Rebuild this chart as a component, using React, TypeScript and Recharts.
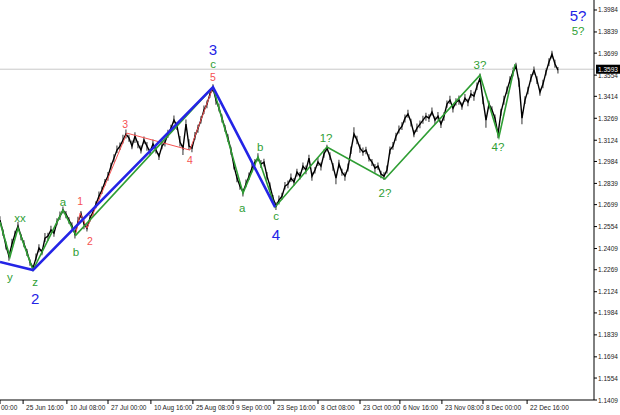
import React from 'react';
import { ComposedChart, Line, Bar, XAxis, YAxis, ReferenceLine, Scatter } from 'recharts';

const closes = [
  1.2597, 1.2518, 1.2425, 1.2359, 1.2439, 1.2505, 1.2557, 1.2491, 1.2439, 1.2386,
  1.2320, 1.2280, 1.2346, 1.2412, 1.2386, 1.2478, 1.2491, 1.2531, 1.2511, 1.2584,
  1.2623, 1.2663, 1.2637, 1.2597, 1.2557, 1.2505, 1.2584, 1.2637, 1.2571, 1.2544,
  1.2610, 1.2650, 1.2703, 1.2755, 1.2795, 1.2848, 1.2887, 1.2953, 1.3006, 1.3059,
  1.3085, 1.3125, 1.3165, 1.3138, 1.3085, 1.3151, 1.3099, 1.3059, 1.3125, 1.3085,
  1.3046, 1.3099, 1.3059, 1.3019, 1.3085, 1.3112, 1.3165, 1.3204, 1.3257, 1.3217,
  1.3112, 1.3072, 1.3231, 1.3085, 1.3072, 1.3151, 1.3204, 1.3257, 1.3323, 1.3363,
  1.3429, 1.3468, 1.3389, 1.3336, 1.3270, 1.3204, 1.3138, 1.3059, 1.2953, 1.2874,
  1.2821, 1.2782, 1.2835, 1.2887, 1.2940, 1.2980, 1.3006, 1.2967, 1.2980, 1.2887,
  1.2821, 1.2742, 1.2689, 1.2729, 1.2755, 1.2821, 1.2835, 1.2874, 1.2848, 1.2914,
  1.2887, 1.2953, 1.2927, 1.3006, 1.2887, 1.2927, 1.2980, 1.2953, 1.3033, 1.3072,
  1.3019, 1.2953, 1.2874, 1.2967, 1.2914, 1.2887, 1.2940, 1.3059, 1.3165, 1.3125,
  1.3072, 1.3046, 1.3059, 1.3006, 1.2980, 1.2940, 1.2953, 1.2901, 1.2887, 1.2927,
  1.3059, 1.3085, 1.3151, 1.3191, 1.3217, 1.3270, 1.3297, 1.3244, 1.3165, 1.3204,
  1.3231, 1.3257, 1.3283, 1.3270, 1.3310, 1.3257, 1.3283, 1.3231, 1.3283, 1.3363,
  1.3389, 1.3336, 1.3376, 1.3389, 1.3349, 1.3402, 1.3376, 1.3429, 1.3415, 1.3481,
  1.3534, 1.3389, 1.3257, 1.3363, 1.3323, 1.3270, 1.3165, 1.3310, 1.3389, 1.3455,
  1.3521, 1.3574, 1.3613, 1.3508, 1.3270, 1.3389, 1.3455, 1.3534, 1.3587, 1.3521,
  1.3442, 1.3495, 1.3574, 1.3640, 1.3693, 1.3627, 1.3587,
];

// How far each sampled bar reached above / below its close, in pips
const wickUp = [
  25, 18, 30, 20, 35, 22, 28, 15, 24, 20,
  18, 22, 30, 26, 20, 34, 22, 28, 18, 25,
  30, 24, 20, 18, 26, 22, 35, 20, 28, 24,
  22, 26, 18, 30, 24, 20, 28, 22, 26, 30,
  24, 35, 30, 22, 38, 26, 20, 30, 24, 28,
  22, 30, 26, 20, 35, 24, 28, 22, 30, 26,
  40, 22, 30, 45, 24, 28, 22, 26, 30, 24,
  28, 26, 22, 30, 24, 20, 26, 22, 28, 24,
  26, 22, 30, 24, 28, 20, 32, 26, 22, 28,
  24, 20, 26, 30, 22, 28, 24, 30, 26, 22,
  28, 24, 30, 22, 26, 20, 28, 24, 30, 22,
  26, 20, 24, 28, 22, 26, 30, 24, 45, 28,
  24, 30, 22, 26, 20, 28, 24, 22, 26, 30,
  24, 28, 22, 30, 26, 24, 28, 22, 26, 30,
  24, 28, 22, 26, 30, 24, 28, 22, 26, 24,
  28, 22, 26, 30, 24, 28, 22, 26, 30, 24,
  30, 24, 28, 22, 26, 24, 30, 22, 28, 24,
  26, 30, 22, 28, 24, 26, 22, 28, 24, 26,
  22, 28, 24, 26, 22, 28, 20,
];
const wickDown = [
  20, 26, 22, 30, 18, 24, 20, 28, 22, 26,
  24, 20, 18, 28, 22, 26, 30, 20, 24, 22,
  26, 22, 28, 24, 20, 30, 22, 26, 35, 22,
  24, 20, 28, 22, 26, 24, 30, 22, 28, 20,
  26, 22, 30, 24, 20, 45, 28, 22, 26, 30,
  24, 28, 22, 26, 20, 30, 24, 28, 22, 26,
  30, 45, 22, 26, 28, 24, 30, 22, 26, 28,
  24, 26, 30, 22, 28, 24, 26, 30, 22, 28,
  24, 30, 22, 26, 28, 24, 22, 26, 30, 24,
  28, 22, 26, 30, 24, 22, 28, 26, 24, 30,
  22, 26, 28, 24, 30, 22, 26, 28, 24, 22,
  26, 30, 40, 28, 24, 30, 22, 26, 24, 28,
  30, 24, 28, 22, 26, 30, 24, 28, 26, 22,
  28, 24, 30, 22, 26, 28, 24, 30, 22, 26,
  28, 24, 30, 26, 22, 28, 24, 26, 30, 24,
  26, 28, 22, 30, 24, 26, 28, 24, 30, 26,
  22, 28, 50, 30, 24, 26, 28, 24, 30, 26,
  24, 28, 22, 30, 40, 26, 28, 24, 30, 26,
  24, 28, 22, 26, 30, 24, 22,
];

// Wave counts (bar number, price)
const blueBars = [0, 11, 71, 91.7];
const bluePrices = [1.2320, 1.2267, 1.3475, 1.2683];

const greenBars = [0, 3.3, 6, 11, 21, 25.3, 71, 81, 86, 91.7, 109, 128.3, 160, 166.3, 171.7];
const greenPrices = [1.2584, 1.2353, 1.2544, 1.2267, 1.2663, 1.2498, 1.3475, 1.2775, 1.3013, 1.2683, 1.3079, 1.2868, 1.3554, 1.3145, 1.3627];

const redBars = [25.3, 26.7, 29, 42.3, 63.3, 71];
const redPrices = [1.2511, 1.2643, 1.2544, 1.3171, 1.3059, 1.3475];

// Wave labels
const labelTexts = ['y', 'xx', 'z', '2', 'a', 'b', '1', '2', '3', '4', '5', 'c', '3', 'a', 'b', 'c', '4', '1?', '2?', '3?', '4?', '5?', '5?'];
const labelBars = [3.3, 6.7, 11.7, 11.7, 21, 25.3, 26.7, 30, 41.7, 63.3, 71, 71, 71, 80.7, 86.7, 92, 92, 108.7, 128.3, 160, 166, 192.7, 192.7];
const labelPrices = [1.2221, 1.2610, 1.2188, 1.2076, 1.2716, 1.2386, 1.2722, 1.2458, 1.3231, 1.2993, 1.3541, 1.3627, 1.3724, 1.2676, 1.3079, 1.2623, 1.2505, 1.3138, 1.2775, 1.3620, 1.3079, 1.3950, 1.3844];
const labelDegree = ['g', 'g', 'g', 'b', 'g', 'g', 'r', 'r', 'r', 'r', 'r', 'g', 'b', 'g', 'g', 'g', 'b', 'g', 'g', 'g', 'g', 'b', 'g'];

const timeTicks = [0, 7.7, 22.3, 36, 50.3, 64.3, 77.7, 91.3, 106, 120, 133.3, 147.3, 161, 175.7];
const timeLabels = ['00:00', '25 Jun 16:00', '10 Jul 08:00', '27 Jul 00:00', '10 Aug 16:00', '25 Aug 08:00', '9 Sep 00:00', '23 Sep 16:00', '8 Oct 08:00', '23 Oct 00:00', '6 Nov 16:00', '23 Nov 08:00', '8 Dec 00:00', '22 Dec 16:00'];

const priceTicks = [1.1409, 1.1554, 1.1694, 1.1839, 1.1984, 1.2124, 1.2269, 1.2409, 1.2554, 1.2699, 1.2839, 1.2984, 1.3124, 1.3269, 1.3414, 1.3554, 1.3699, 1.3839, 1.3984];
const lastPrice = 1.3593;

const BLUE = '#2424e6';
const GREEN = '#2f9e34';
const RED = '#f55252';
const FONT = '"Liberation Sans", Arial, sans-serif';

const PIP = 0.0001;
const priceData = closes.map((p, i) => ({
  x: i,
  p,
  range: [p - wickDown[i] * PIP, p + wickUp[i] * PIP],
}));
const zip = (xs: number[], ps: number[]) => xs.map((x, i) => ({ x, p: ps[i] }));
const blueData = zip(blueBars, bluePrices);
const greenData = zip(greenBars, greenPrices);
const redData = zip(redBars, redPrices);
const labelData = labelTexts.map((t, i) => ({ x: labelBars[i], p: labelPrices[i], t, d: labelDegree[i] }));

const degreeStyle: Record<string, { fill: string; size: number }> = {
  b: { fill: BLUE, size: 15 },
  g: { fill: GREEN, size: 11.5 },
  r: { fill: RED, size: 10.5 },
};

const WaveLabel = (props: any) => {
  const { cx, cy, payload } = props;
  if (cx == null || cy == null) return null;
  const s = degreeStyle[payload.d];
  return (
    <text x={cx} y={cy} fill={s.fill} fontSize={s.size} fontFamily={FONT} textAnchor="middle" dominantBaseline="central">
      {payload.t}
    </text>
  );
};

const TimeTick = (props: any) => {
  const { x, y, payload } = props;
  const idx = timeTicks.indexOf(payload.value);
  const label = idx >= 0 ? timeLabels[idx] : '';
  return (
    <g>
      <line x1={x} y1={y} x2={x} y2={y + 4} stroke="#000" strokeWidth={1} />
      <text x={x + (idx === 0 ? 1 : 3)} y={y + 10} fontSize={6.5} fill="#222" fontFamily={FONT} textAnchor="start">
        {label}
      </text>
    </g>
  );
};

const PriceTick = (props: any) => {
  const { x, y, payload } = props;
  return (
    <g>
      <line x1={x} y1={y} x2={x + 3} y2={y} stroke="#000" strokeWidth={1} />
      <text x={x + 4} y={y} fontSize={6.5} fill="#222" fontFamily={FONT} textAnchor="start" dominantBaseline="central">
        {payload.value.toFixed(4)}
      </text>
    </g>
  );
};

const PriceTag = (props: any) => {
  const vb = props.viewBox;
  if (!vb) return null;
  const x = vb.x + vb.width + 2;
  const y = vb.y;
  return (
    <g>
      <rect x={x} y={y - 4.5} width={24} height={9} fill="#000" />
      <text x={x + 2} y={y} fontSize={6.5} fill="#fff" fontFamily={FONT} dominantBaseline="central">
        {lastPrice.toFixed(4)}
      </text>
    </g>
  );
};

export default function App() {
  return (
    <div style={{ position: 'absolute', left: 0, top: 0, width: 620, height: 415, background: '#fff' }}>
      <ComposedChart width={620} height={415} data={priceData} margin={{ top: 0, right: 0, bottom: 0, left: 0 }} barGap={0}>
        <XAxis
          type="number"
          dataKey="x"
          domain={[0, 198]}
          ticks={timeTicks}
          allowDataOverflow
          height={15}
          tickLine={false}
          tickSize={0}
          tickMargin={0}
          axisLine={{ stroke: '#000', strokeWidth: 1 }}
          tick={<TimeTick />}
          interval={0}
        />
        <YAxis
          type="number"
          orientation="right"
          domain={[1.1409, 1.405]}
          ticks={priceTicks}
          allowDataOverflow
          width={26}
          tickLine={false}
          tickSize={0}
          tickMargin={0}
          axisLine={{ stroke: '#000', strokeWidth: 1 }}
          tick={<PriceTick />}
          interval={0}
        />
        <ReferenceLine y={lastPrice} stroke="#c8c8c8" strokeWidth={1} label={<PriceTag />} ifOverflow="visible" />
        <Bar dataKey="range" fill="#000" barSize={1.8} legendType="none" isAnimationActive={false} />
        <Line data={priceData} dataKey="p" stroke="#000" strokeWidth={1.4} strokeLinejoin="miter" dot={false} activeDot={false} legendType="none" isAnimationActive={false} />
        <Line data={redData} dataKey="p" stroke={RED} strokeWidth={1} dot={false} activeDot={false} legendType="none" isAnimationActive={false} />
        <Line data={greenData} dataKey="p" stroke={GREEN} strokeWidth={1.6} dot={false} activeDot={false} legendType="none" isAnimationActive={false} />
        <Line data={blueData} dataKey="p" stroke={BLUE} strokeWidth={2.6} dot={false} activeDot={false} legendType="none" isAnimationActive={false} />
        <Scatter data={labelData} dataKey="p" shape={<WaveLabel />} legendType="none" isAnimationActive={false} />
      </ComposedChart>
    </div>
  );
}
